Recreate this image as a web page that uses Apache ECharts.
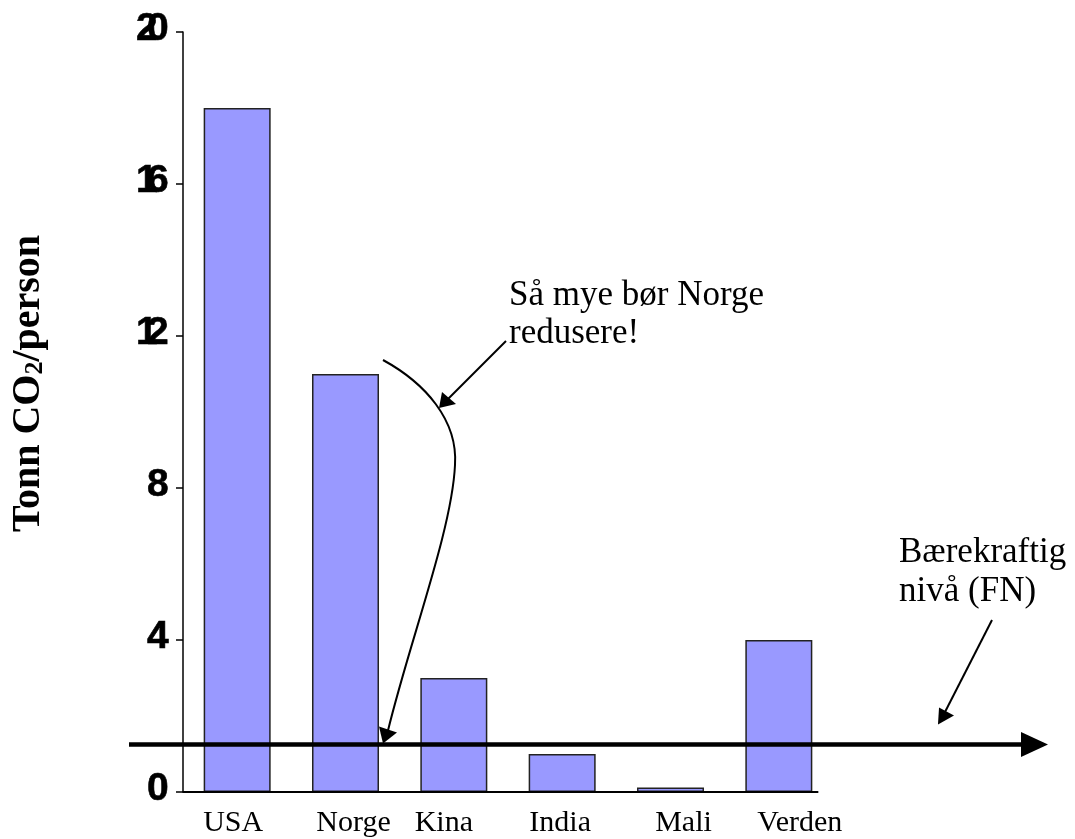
<!DOCTYPE html>
<html>
<head>
<meta charset="utf-8">
<script src="https://cdn.jsdelivr.net/npm/echarts@6/dist/echarts.min.js"></script>
<style>
html,body{margin:0;padding:0;background:#fff;}
#chart{width:1075px;height:839px;}
</style>
</head>
<body>
<div id="chart"></div>
<script>
// ---- data ----
const categories = ['USA', 'Norge', 'Kina', 'India', 'Mali', 'Verden'];
const emissions = [18, 11, 3, 1, 0.12, 4];
const yMin = 0, yMax = 20, yInterval = 4;
const yTickLabels = ['0', '4', '8', '12', '16', '20'];
const sustainableLevel = 1.25;
const yTitleMain = 'Tonn CO';
const yTitleSub = '2';
const yTitleEnd = '/person';
const noteNorway = ['Så mye bør Norge', 'redusere!'];
const noteLevel = ['Bærekraftig', 'nivå (FN)'];

// ---- styling ----
const labelShift = [-4, 8, -10, -2, 13, 21];   // horizontal nudge of category labels (px)
const serif = "'Liberation Serif', 'Times New Roman', serif";
const sans = "'Liberation Sans', Arial, sans-serif";
const BAR_W = 67;
const DIGIT_STEP = 11;

const chart = echarts.init(document.getElementById('chart'), null, {renderer: 'canvas'});

const xRich = {};
labelShift.forEach((s, i) => {
  xRich['c' + i] = {
    fontFamily: serif, fontSize: 30, color: '#000',
    padding: s >= 0 ? [0, 0, 0, 2 * s] : [0, -2 * s, 0, 0]
  };
});

chart.setOption({
  animation: false,
  backgroundColor: '#ffffff',
  grid: {left: 183, top: 32, width: 650, bottom: 47, containLabel: false},
  xAxis: {
    type: 'category',
    data: categories,
    axisLine: {show: false},
    axisTick: {show: false},
    axisLabel: {
      color: '#000', fontFamily: serif, fontSize: 30, margin: 16, interval: 0,
      formatter: (v) => '{c' + categories.indexOf(v) + '|' + v + '}',
      rich: xRich
    }
  },
  yAxis: {
    type: 'value',
    min: yMin, max: yMax, interval: yInterval,
    axisLine: {show: true, lineStyle: {color: '#000', width: 1.5}},
    axisTick: {show: true, length: 7, lineStyle: {color: '#000', width: 1.5}},
    splitLine: {show: false},
    axisLabel: {show: false}
  },
  series: [{
    type: 'bar',
    data: emissions,
    barWidth: BAR_W,
    itemStyle: {color: '#9999ff', borderColor: '#222', borderWidth: 1.5}
  }]
});

function buildGraphics() {
  const yLevel = chart.convertToPixel({yAxisIndex: 0}, sustainableLevel);
  const yZero = chart.convertToPixel({yAxisIndex: 0}, 0);
  const xStart = chart.convertToPixel({xAxisIndex: 0}, categories[0]) - BAR_W / 2 - 21;
  const xEnd = chart.convertToPixel({xAxisIndex: 0}, categories[categories.length - 1]) + BAR_W / 2 + 6;
  const textStyle = (t) => ({text: t, fontFamily: serif, fontSize: 35, fill: '#000', align: 'left', verticalAlign: 'middle'});

  // tightly-set bold tick labels, positioned through the y scale
  const tickTexts = [];
  yTickLabels.forEach((lab) => {
    const y = chart.convertToPixel({yAxisIndex: 0}, Number(lab)) - 3;
    const digits = lab.split('');
    digits.forEach((d, i) => {
      const k = digits.length - 1 - i;
      tickTexts.push({
        type: 'text', z: 100 + i,
        x: xStart - 14 - DIGIT_STEP * k, y: y,
        style: {text: d, fontFamily: sans, fontWeight: 'bold', fontSize: 39, fill: '#000',
                stroke: '#000', lineWidth: 0.6, align: 'right', verticalAlign: 'middle'}
      });
    });
  });

  chart.setOption({
    graphic: [
      // x axis baseline
      {type: 'line', z: 50, shape: {x1: xStart, y1: yZero, x2: xEnd, y2: yZero},
        style: {stroke: '#000', lineWidth: 2}},
      // sustainable level line with arrow
      {type: 'line', z: 100, shape: {x1: 129, y1: yLevel, x2: 1024, y2: yLevel},
        style: {stroke: '#000', lineWidth: 4.5}},
      {type: 'polygon', z: 100, shape: {points: [[1048, yLevel], [1021, yLevel - 12.5], [1021, yLevel + 12.5]]},
        style: {fill: '#000'}},
      // curved arrow from Norway bar to level
      {type: 'bezierCurve', z: 100, shape: {x1: 383, y1: 360, cpx1: 425, cpy1: 383, cpx2: 458, cpy2: 420, x2: 455, y2: 465},
        style: {stroke: '#000', lineWidth: 2, fill: null}},
      {type: 'bezierCurve', z: 100, shape: {x1: 455, y1: 465, cpx1: 452, cpy1: 530, cpx2: 410, cpy2: 640, x2: 388, y2: yLevel - 14},
        style: {stroke: '#000', lineWidth: 2, fill: null}},
      {type: 'polygon', z: 100, shape: {points: [[383, yLevel - 1], [379, yLevel - 18], [397, yLevel - 12]]},
        style: {fill: '#000'}},
      // straight arrow from note to curve
      {type: 'line', z: 100, shape: {x1: 506, y1: 341, x2: 448, y2: 399},
        style: {stroke: '#000', lineWidth: 2}},
      {type: 'polygon', z: 100, shape: {points: [[439, 408], [442, 392], [456, 404]]},
        style: {fill: '#000'}},
      // arrow from level note
      {type: 'line', z: 100, shape: {x1: 992, y1: 620, x2: 945, y2: 712},
        style: {stroke: '#000', lineWidth: 2}},
      {type: 'polygon', z: 100, shape: {points: [[938, yLevel - 20], [939, yLevel - 37], [954, yLevel - 29]]},
        style: {fill: '#000'}},
      // texts
      {type: 'text', z: 100, x: 509, y: 296, style: textStyle(noteNorway[0])},
      {type: 'text', z: 100, x: 509, y: 334, style: textStyle(noteNorway[1])},
      {type: 'text', z: 100, x: 899, y: 553, style: textStyle(noteLevel[0])},
      {type: 'text', z: 100, x: 899, y: 592, style: textStyle(noteLevel[1])},
      // y axis title
      {type: 'text', z: 100, x: 28.5, y: 383.5, rotation: Math.PI / 2,
        style: {
          text: '{a|' + yTitleMain + '}{s|' + yTitleSub + '}{a|' + yTitleEnd + '}',
          align: 'center', verticalAlign: 'middle',
          rich: {
            a: {fontFamily: serif, fontWeight: 'bold', fontSize: 40, fill: '#000'},
            s: {fontFamily: serif, fontWeight: 'bold', fontSize: 26, fill: '#000', verticalAlign: 'bottom', lineHeight: 18}
          }
        }}
    ].concat(tickTexts)
  });
}
buildGraphics();
</script>
</body>
</html>
